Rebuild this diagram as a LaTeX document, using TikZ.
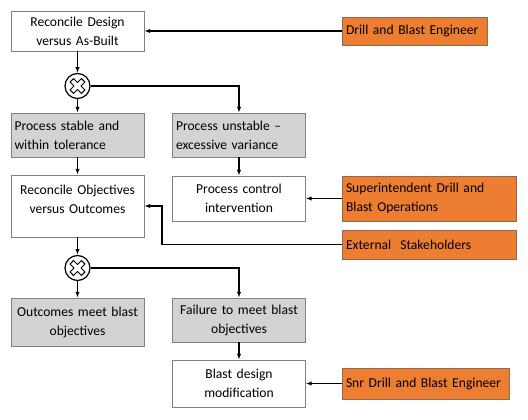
\documentclass[tikz,border=0pt]{standalone}
\usepackage{fontspec}
\setmainfont{Carlito}
\usetikzlibrary{arrows.meta}
\definecolor{roleorange}{HTML}{ED7D31}
\definecolor{roleedge}{HTML}{8F6A50}
\definecolor{boxgrey}{HTML}{D3D3D3}
\definecolor{boxedge}{HTML}{808080}

\begin{document}
\begin{tikzpicture}[x=1pt, y=-1pt, every node/.style={font=\fontsize{13.6}{19}\selectfont}, >={Latex[length=2mm]},
	plainbox/.style={draw=boxedge, line width=0.8pt, fill=white, text width=126pt, inner xsep=3.5pt, align=center},
	greybox/.style={plainbox, fill=boxgrey},
	rolebox/.style={draw=roleedge, line width=0.8pt, fill=roleorange, inner xsep=4pt, align=left},
	gateway/.style={circle, draw, line width=1.2pt, minimum size=25pt, inner sep=0pt},
	flow/.style={->, line width=1.2pt}]
	\useasboundingbox (0,0) rectangle (528,420);
	% reconcile design
	\node[plainbox, minimum height=40pt] (design) at (77.5,31) {Reconcile Design\\versus As-Built};
	\node[rolebox, text width=137pt, minimum height=28pt] (dbe) at (414.5,31) {Drill and Blast Engineer};
	\node[gateway] (g1) at (77.5,86) {};
	\node[greybox, align=left, minimum height=44pt] (stable) at (77.5,135) {Process stable and\\within tolerance};
	\node[greybox, align=left, minimum height=44pt] (unstable) at (239,135) {Process unstable --\\excessive variance};
	% reconcile objectives
	\node[plainbox, minimum height=62pt] (objectives) at (77.5,206) {Reconcile Objectives\\versus Outcomes\\[-5pt]\mbox{}};
	\node[plainbox, minimum height=45pt] (control) at (239,198.5) {Process control\\intervention};
	\node[rolebox, text width=166pt, minimum height=45pt] (super) at (429,198.5) {Superintendent Drill and\\Blast Operations};
	\node[rolebox, text width=166pt, minimum height=29pt] (external) at (429,244.5) {External\ \ Stakeholders};
	\node[gateway] (g2) at (77.5,268) {};
	\node[greybox, minimum height=48pt] (meet) at (77.5,322) {Outcomes meet blast\\objectives};
	\node[greybox, minimum height=44pt] (failure) at (239,320) {Failure to meet blast\\objectives};
	\node[plainbox, minimum height=47pt] (modify) at (239,383.5) {Blast design\\modification};
	\node[rolebox, text width=159pt, minimum height=31pt] (snr) at (425.5,383.5) {Snr Drill and Blast Engineer};
	\coordinate (extbend) at (162,244.5);

	% gateway crosses
	\foreach \g in {g1,g2}
		\draw[line width=1pt, line join=round, shift={(\g.center)}, rotate=45] (2.5,8) -- (2.5,2.5) -- (8,2.5) -- (8,-2.5) -- (2.5,-2.5) -- (2.5,-8) -- (-2.5,-8) -- (-2.5,-2.5) -- (-8,-2.5) -- (-8,2.5) -- (-2.5,2.5) -- (-2.5,8) -- cycle;

	\draw[flow] (dbe.west) -- (dbe.west -| design.east);
	\draw[flow] (design) -- (g1);
	\draw[flow] (g1) -- (stable);
	\draw[flow] (g1) -| (unstable);
	\draw[flow] (stable) -- (objectives);
	\draw[flow] (unstable) -- (control);
	\draw[flow] (super) -- (control);
	\draw[flow] (external.west) -- (extbend) |- (objectives.east);
	\draw[flow] (objectives) -- (g2);
	\draw[flow] (g2) -- (meet);
	\draw[flow] (g2) -| (failure);
	\draw[flow] (failure) -- (modify);
	\draw[flow] (snr) -- (modify);
\end{tikzpicture}
\end{document}
